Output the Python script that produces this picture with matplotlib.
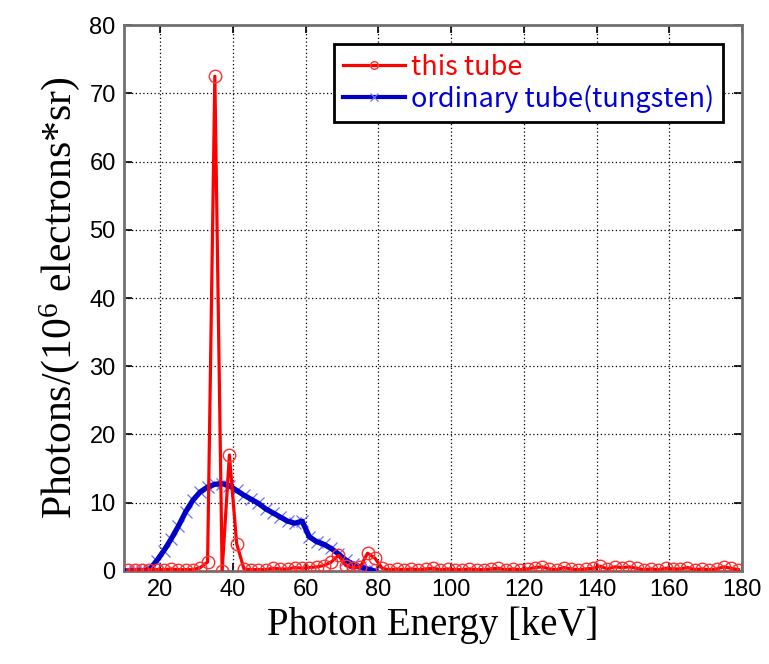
import numpy as np
import matplotlib
matplotlib.use("Agg")
import matplotlib.pyplot as plt
from matplotlib.lines import Line2D

plt.rcParams["mathtext.fontset"] = "custom"
plt.rcParams["mathtext.rm"] = "Liberation Serif"
plt.rcParams["mathtext.it"] = "Liberation Serif:italic"

# ====== DATA ======
# this tube: sampled every 2 keV
tube_energy = list(range(11, 180, 2))
tube_photons = [
    0.1, 0.1, 0.1, 0.2, 0.2, 0.2, 0.3, 0.2, 0.2, 0.2,      # 11-29
    0.5, 1.3, 72.5, 0.0, 17.0, 4.0, 0.3, 0.2, 0.2, 0.2,    # 31-49
    0.4, 0.3, 0.3, 0.5, 0.4, 0.5, 0.6, 0.8, 1.3, 2.3,      # 51-69
    0.8, 0.4, 0.6, 2.6, 1.9, 0.4, 0.2, 0.3, 0.2, 0.3,      # 71-89
    0.2, 0.3, 0.4, 0.2, 0.3, 0.2, 0.2, 0.3, 0.2, 0.2,      # 91-109
    0.3, 0.4, 0.2, 0.3, 0.2, 0.3, 0.5, 0.6, 0.3, 0.2,      # 111-129
    0.5, 0.3, 0.2, 0.3, 0.4, 0.7, 0.3, 0.6, 0.5, 0.6,      # 131-149
    0.4, 0.2, 0.3, 0.2, 0.4, 0.3, 0.3, 0.5, 0.2, 0.3,      # 151-169
    0.2, 0.3, 0.6, 0.4, 0.2,                               # 171-179
]

# ordinary tube (tungsten)
tungsten_energy = list(range(11, 80, 2))
tungsten_photons = [
    0.0, 0.0, 0.0, 0.2, 1.5, 3.0, 4.7, 6.6, 8.7, 10.4,     # 11-29
    11.6, 12.3, 12.7, 12.8, 12.5, 11.8, 11.1, 10.5, 9.9, 9.1,  # 31-49
    8.5, 7.9, 7.3, 7.0, 7.3, 5.0, 4.3, 3.9, 3.3, 2.5,      # 51-69
    1.6, 1.0, 0.6, 0.3, 0.0,                               # 71-79
]

x_ticks = list(range(20, 181, 20))
y_ticks = list(range(0, 81, 10))

RED = "#ff0000"
BLUE = "#0000c8"
BLUE_MARK = "#7070ff"

# ====== PLOT ======
fig = plt.figure(figsize=(7.69, 6.64), dpi=100)
ax = fig.add_axes([0.1612, 0.1401, 0.8037, 0.8222])

# tungsten: light x markers under a heavy dark line
ax.plot(tungsten_energy, tungsten_photons, ls="none", marker="x", ms=9,
        mew=0.9, mec=BLUE_MARK, zorder=3)
ax.plot(tungsten_energy, tungsten_photons, color=BLUE, lw=3.8, zorder=3.5)
ax.plot(tube_energy, tube_photons, color=RED, lw=2.3,
        marker="o", ms=9, mfc="none", mec="#ff3030", mew=1.0, zorder=4)

ax.set_xlim(10, 180)
ax.set_ylim(0, 80)
ax.set_xticks(x_ticks)
ax.set_yticks(y_ticks)

ax.grid(True, color="black", lw=0.9, linestyle=(0, (1, 2)))
ax.tick_params(direction="in", length=6, width=1.2, top=True, right=True,
               labelsize=17, pad=6)
for lbl in ax.get_xticklabels() + ax.get_yticklabels():
    lbl.set_fontfamily("Liberation Sans")
for sp in ax.spines.values():
    sp.set_color("#707070")
    sp.set_linewidth(2)

ax.set_xlabel("Photon Energy [keV]", fontsize=28, family="Liberation Serif",
              labelpad=4)
ax.set_ylabel("Photons/(10$^{6}$ electrons*sr)", fontsize=30,
              family="Liberation Serif", labelpad=5)

handles = [
    Line2D([], [], color=RED, lw=2.3, marker="o", ms=5.5, mfc="none",
           mec="#ff3030", mew=1.0),
    Line2D([], [], color=BLUE, lw=3.0, marker="x", ms=5.5, mew=0.9,
           mec=BLUE_MARK),
]
leg = ax.legend(handles, ["this tube", "ordinary tube(tungsten)"],
                loc="upper right", bbox_to_anchor=(0.97, 0.965),
                fancybox=False, framealpha=1, edgecolor="black",
                handlelength=2.3, handletextpad=0.2, borderpad=0.35,
                labelspacing=0.15, borderaxespad=0,
                prop={"family": ["Noto Sans CJK JP", "DejaVu Sans"], "size": 19.5})
leg.get_frame().set_linewidth(2)
for txt, col in zip(leg.get_texts(), [RED, "#0000dd"]):
    txt.set_color(col)

fig.savefig("out.png", dpi=100)
